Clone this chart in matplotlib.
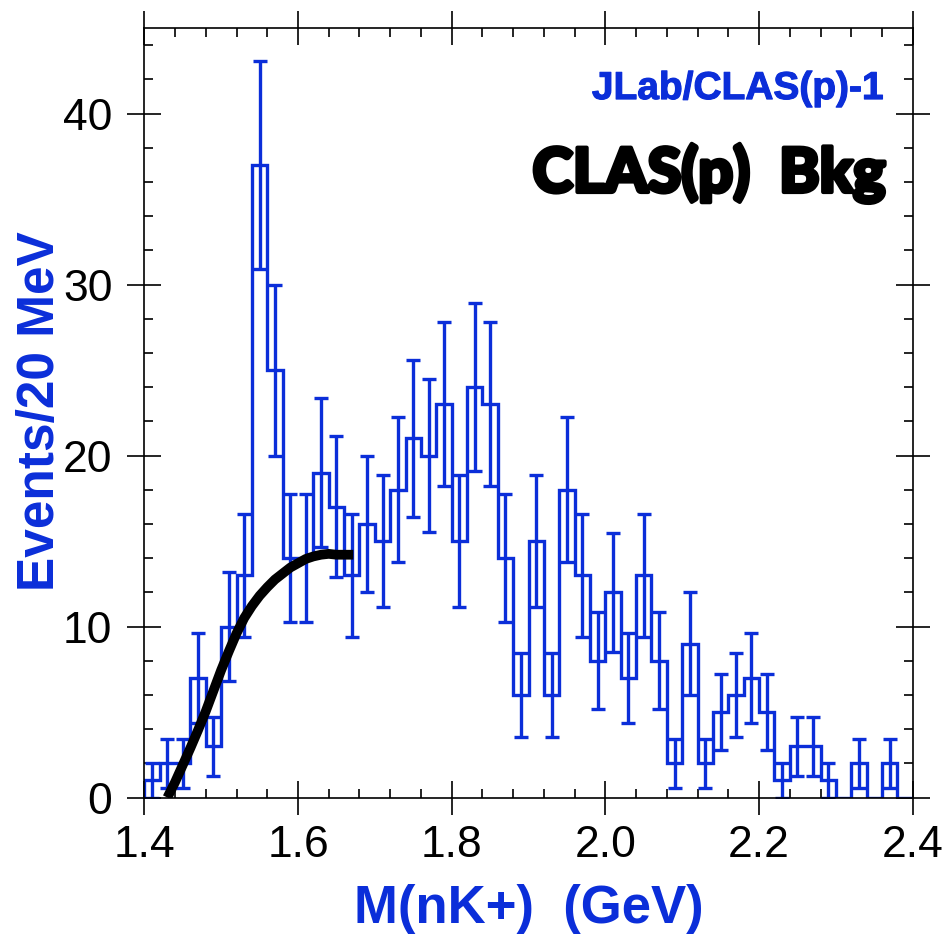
import numpy as np
import matplotlib
matplotlib.use("Agg")
import matplotlib.pyplot as plt
from matplotlib import font_manager
from matplotlib.ticker import MultipleLocator, FixedLocator
import matplotlib.patheffects as pe

# nK+ invariant mass histogram, 20 MeV bins from 1.40 to 2.40 GeV
mass_lo, mass_hi, n_bins = 1.40, 2.40, 50
counts = [1, 2, 2, 7, 3, 10, 13, 37, 25, 14,
          14, 19, 17, 13, 16, 15, 18, 21, 20, 23,
          15, 24, 23, 14, 6, 15, 6, 18, 13, 8,
          12, 7, 13, 8, 2, 9, 2, 5, 6, 7,
          5, 1, 3, 3, 1, 0, 2, 0, 2, 0]

# background curve
bkg_mass = [1.430, 1.44, 1.45, 1.46, 1.47, 1.48, 1.49, 1.50, 1.51, 1.52,
            1.53, 1.54, 1.55, 1.56, 1.57, 1.58, 1.59, 1.60, 1.61, 1.62,
            1.63, 1.64, 1.65, 1.66, 1.672]
bkg_events = [0.0, 0.9, 1.9, 2.9, 3.95, 5.05, 6.25, 7.45, 8.55, 9.6,
              10.5, 11.2, 11.8, 12.3, 12.75, 13.1, 13.45, 13.7, 13.95, 14.1,
              14.2, 14.25, 14.2, 14.2, 14.2]

x_ticks = [1.4, 1.6, 1.8, 2.0, 2.2, 2.4]
x_tick_labels = ["1.4", "1.6", "1.8", "2.0", "2.2", "2.4"]
y_ticks = [0, 10, 20, 30, 40]
y_tick_labels = ["0", "10", "20", "30", "40"]

BLUE = "#0b2ed9"
sans = "Liberation Sans"

# heaviest available face for the black tag
heavy_family, heavy_weight, heavy_size = sans, "bold", 39.5
for fam in ("Lato", "Roboto", "Inter", "Open Sans", "Noto Sans"):
    faces = [f for f in font_manager.fontManager.ttflist
             if f.name == fam and isinstance(f.weight, int) and f.weight >= 850
             and f.style == "normal"]
    if faces:
        heavy_family, heavy_weight, heavy_size = fam, max(f.weight for f in faces), 44
        break

fig = plt.figure(figsize=(9.47, 9.34), dpi=100)
ax = fig.add_axes([0.1524, 0.1461, 0.8114, 0.8239])

edges = np.linspace(mass_lo, mass_hi, n_bins + 1)
centers = 0.5 * (edges[:-1] + edges[1:])
vals = np.asarray(counts, dtype=float)
errs = np.sqrt(vals)

ax.stairs(vals, edges, baseline=0, color=BLUE, linewidth=2.4, zorder=2)
nz = vals > 0
ax.errorbar(centers[nz], vals[nz], yerr=errs[nz], fmt="none", ecolor=BLUE,
            elinewidth=2.4, capsize=5.0, capthick=2.4, zorder=2)

ax.plot(bkg_mass, bkg_events, color="black", linewidth=7.0,
        solid_capstyle="butt", solid_joinstyle="round", zorder=3)

ax.set_xlim(mass_lo, mass_hi)
ax.set_ylim(0, 45)
ax.xaxis.set_major_locator(FixedLocator(x_ticks))
ax.set_xticklabels(x_tick_labels)
ax.yaxis.set_major_locator(FixedLocator(y_ticks))
ax.set_yticklabels(y_tick_labels)
ax.xaxis.set_minor_locator(MultipleLocator(0.04))
ax.yaxis.set_minor_locator(MultipleLocator(2))

for sp in ax.spines.values():
    sp.set_linewidth(1.2)
ax.tick_params(which="major", direction="inout", length=24, width=1.2,
               top=True, right=True, labelsize=32, colors="black")
ax.tick_params(axis="x", which="major", pad=7.5)
ax.tick_params(axis="y", which="major", pad=11)
ax.tick_params(which="minor", direction="in", length=6.5, width=1.2,
               top=True, right=True)
for lab in ax.get_xticklabels() + ax.get_yticklabels():
    lab.set_fontfamily(sans)

ax.text(0.4998, -0.1635, "M(nK+)  (GeV)", transform=ax.transAxes,
        ha="center", va="baseline", fontsize=38, fontweight="bold",
        family=sans, color=BLUE)
ax.text(-0.1175, 0.502, "Events/20 MeV", transform=ax.transAxes,
        rotation=90, rotation_mode="anchor", ha="center", va="baseline",
        fontsize=37, fontweight="bold", family=sans, color=BLUE)

ax.text(0.9617, 0.9077, "JLab/CLAS(p)-1", transform=ax.transAxes,
        ha="right", va="baseline", fontsize=28, fontweight="bold",
        family=sans, color=BLUE,
        path_effects=[pe.withStroke(linewidth=0.8, foreground=BLUE)])
ax.text(0.964, 0.7869, "CLAS(p)  Bkg", transform=ax.transAxes,
        ha="right", va="baseline", fontsize=heavy_size, fontweight=heavy_weight,
        family=heavy_family, color="black",
        path_effects=[pe.withStroke(linewidth=3.0, foreground="black")])

fig.savefig("out.png", dpi=100)
